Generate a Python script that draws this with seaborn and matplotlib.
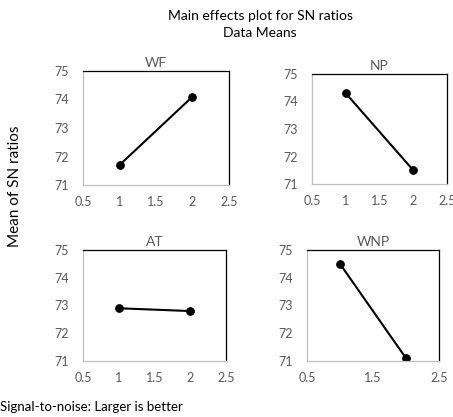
import matplotlib
matplotlib.use("Agg")
import matplotlib.pyplot as plt
import seaborn as sns
import pandas as pd

sns.set_theme(style="white")
plt.rcParams['font.family'] = ['Lato', 'DejaVu Sans']

levels = [1, 2]
wf = [71.7, 74.1]
np_ = [74.3, 71.5]
at = [72.9, 72.8]
wnp = [74.5, 71.1]
factors = ["WF", "NP", "AT", "WNP"]
series = [wf, np_, at, wnp]
yticks = [71, 72, 73, 74, 75]
xticks_std = [0.5, 1, 1.5, 2, 2.5]
xticks_wnp = [0.5, 1.5, 2.5]

fig = plt.figure(figsize=(4.53, 4.17), dpi=100)
W, H = 453, 417
boxes = {
    "WF": (83, 71, 229, 185),
    "NP": (312, 74, 447, 184),
    "AT": (83, 250, 226, 361),
    "WNP": (307, 250, 439, 361),
}
for name, vals in zip(factors, series):
    l, t, r, b = boxes[name]
    ax = fig.add_axes([l / W, 1 - b / H, (r - l) / W, (b - t) / H])
    df = pd.DataFrame({"level": levels, "sn": vals})
    sns.lineplot(data=df, x="level", y="sn", ax=ax, color="black", lw=1.5,
                 marker="o", markersize=5.5, markeredgecolor="black")
    ax.set_xlim(0.5, 2.5)
    ax.set_ylim(71, 75)
    ax.set_yticks(yticks)
    xt = xticks_wnp if name == "WNP" else xticks_std
    ax.set_xticks(xt)
    ax.set_xticklabels([("%g" % v) for v in xt])
    ax.set_xlabel("")
    ax.set_ylabel("")
    ax.tick_params(axis="both", labelsize=9, colors="#595959", length=0)
    ax.tick_params(axis="y", pad=10)
    ax.tick_params(axis="x", pad=8)
    ax.set_title(name, fontsize=10, color="#595959", pad=3)
    for s in ["left", "bottom"]:
        ax.spines[s].set_color("#bfbfbf")
        ax.spines[s].set_linewidth(0.9)
    for s in ["top", "right"]:
        ax.spines[s].set_color("black")
        ax.spines[s].set_linewidth(0.9)

fig.text(260 / W, 1 - 16 / H, "Main effects plot for SN ratios", ha="center", va="center", fontsize=10, color="black")
fig.text(260 / W, 1 - 33 / H, "Data Means", ha="center", va="center", fontsize=10, color="black")
fig.text(15 / W, 1 - 186 / H, "Mean of SN ratios", ha="center", va="center", rotation=90, fontsize=11, color="black")
fig.text(0, 1 - 407 / H, "Signal-to-noise: Larger is better", ha="left", va="center", fontsize=9.5, color="black")

fig.savefig("out.png", dpi=100)
